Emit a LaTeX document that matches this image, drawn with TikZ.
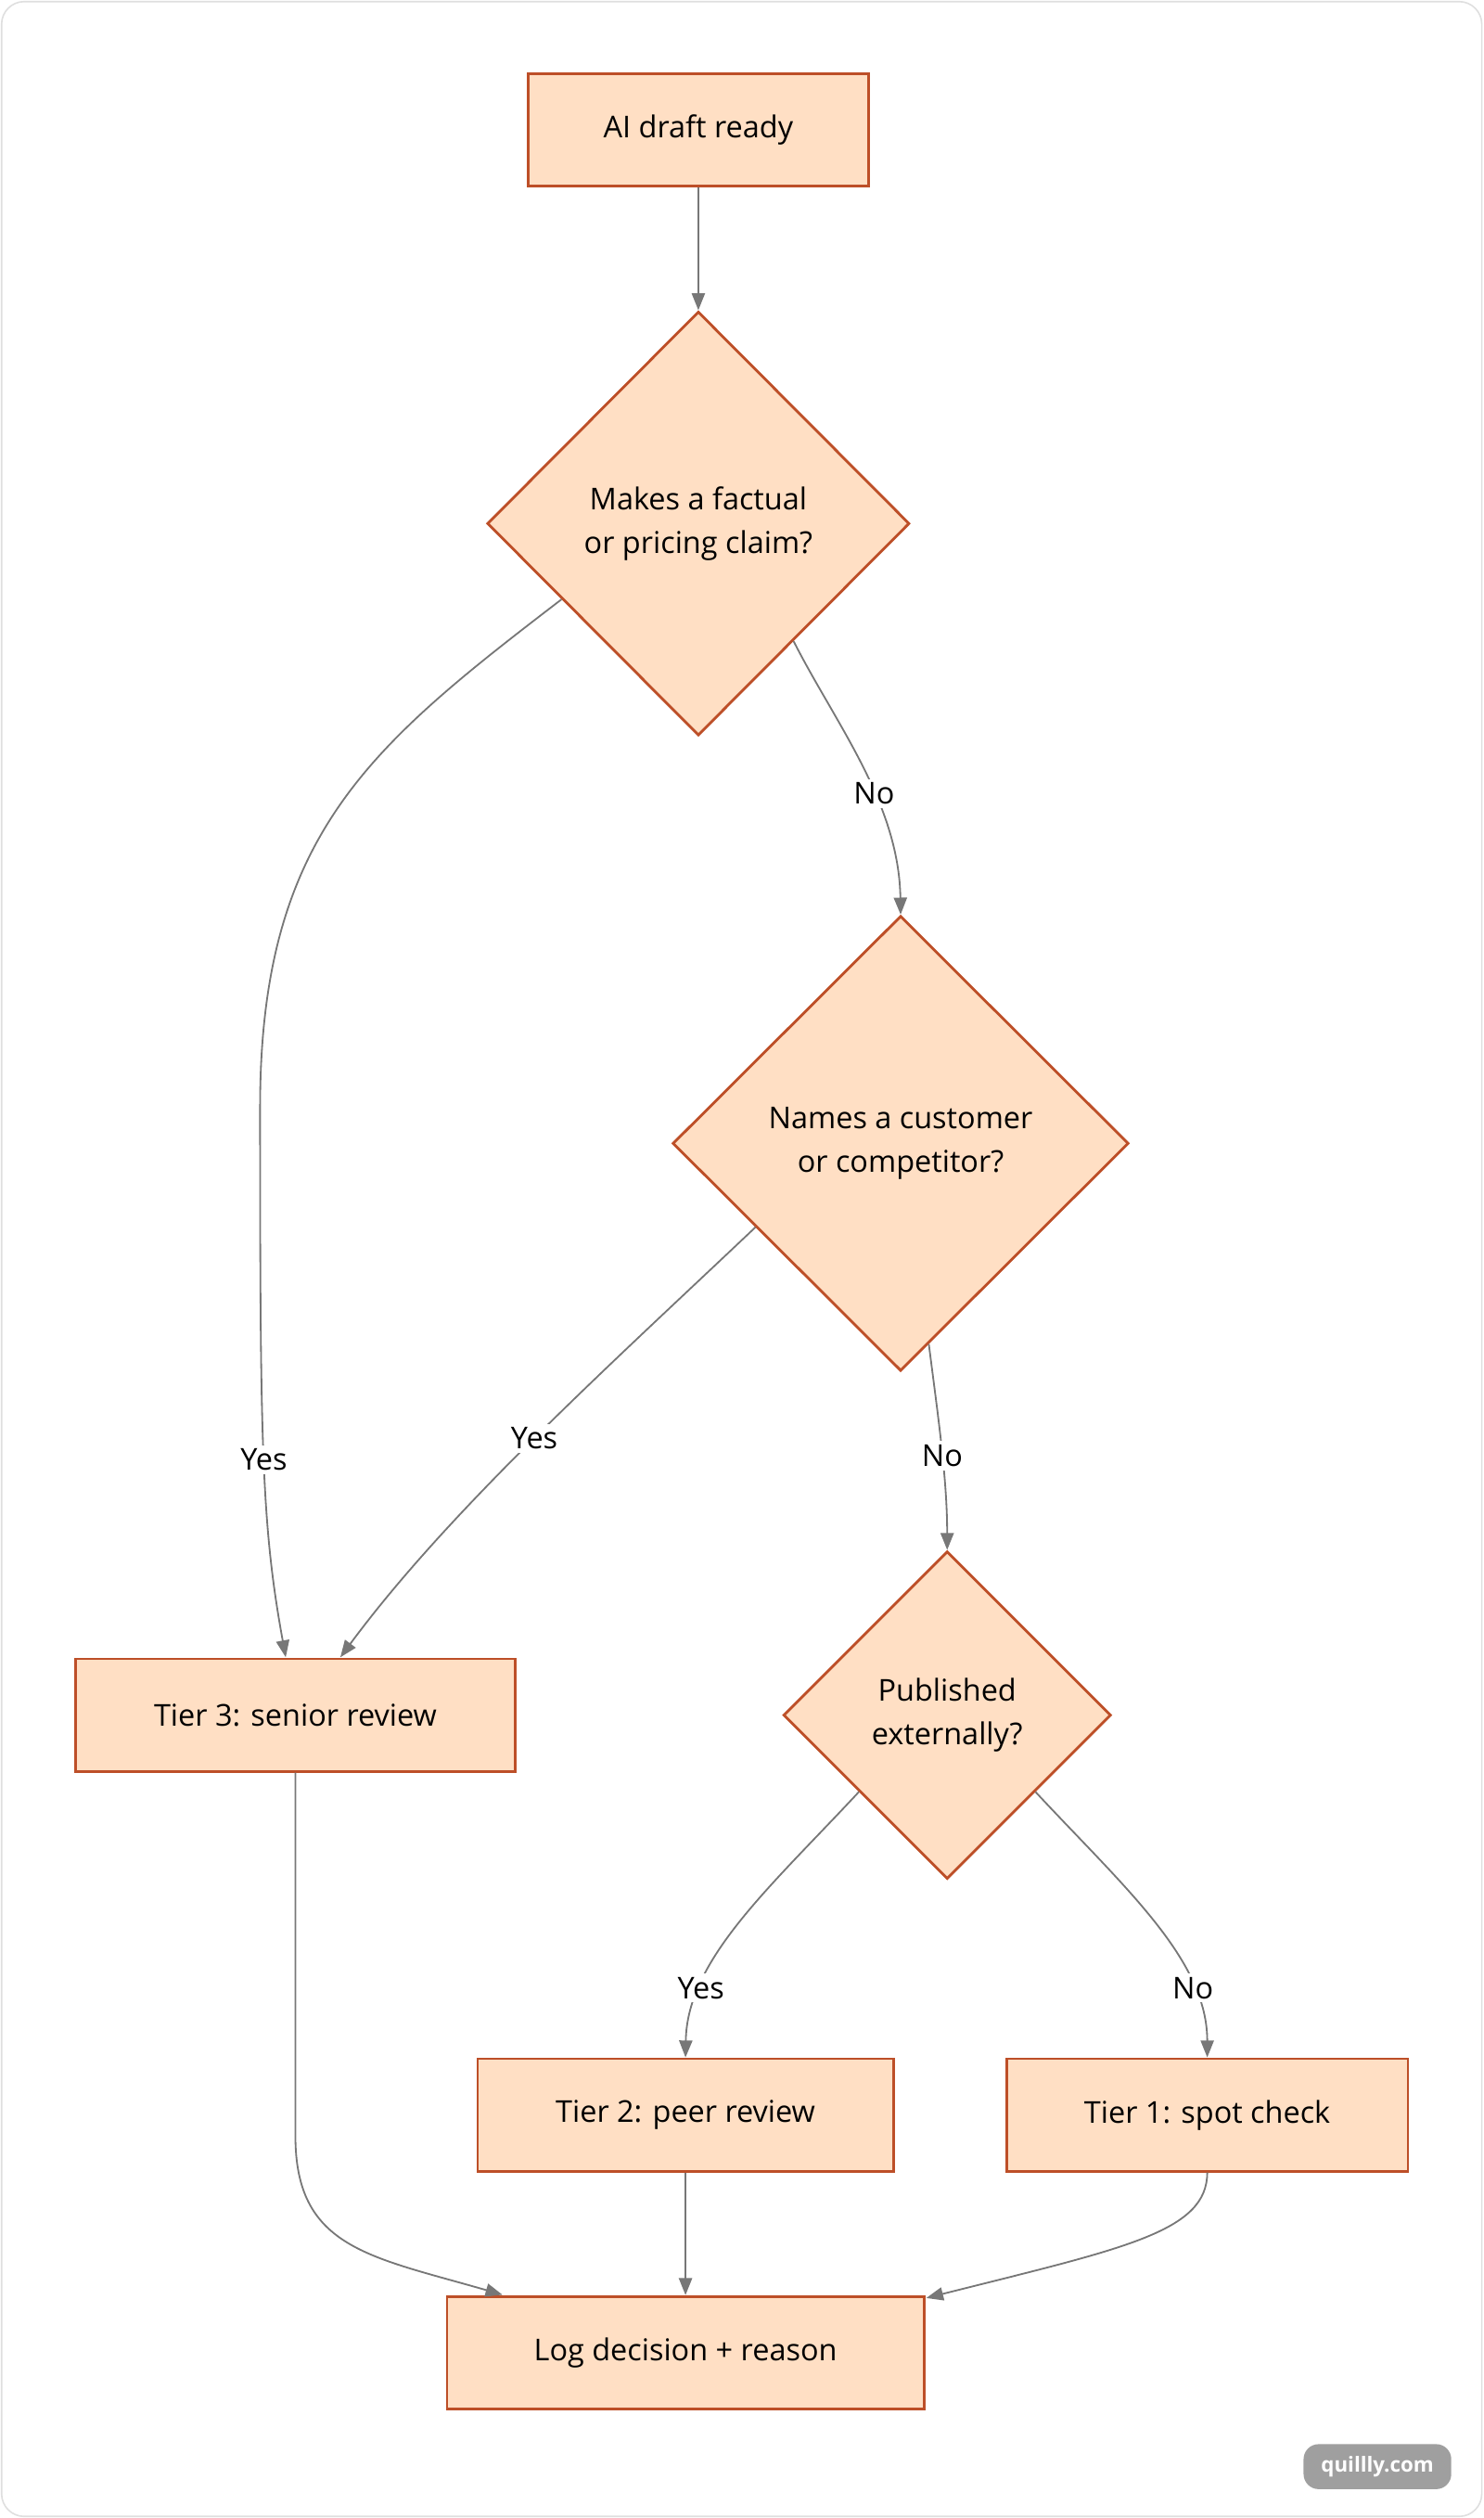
\documentclass[tikz,border=0pt]{standalone}
\usepackage{fontspec}
\setmainfont{Open Sans}
\usetikzlibrary{shapes.geometric,arrows.meta}
\definecolor{boxfill}{HTML}{FFDFC4}
\definecolor{boxline}{HTML}{BD4F28}
\definecolor{edgegray}{HTML}{777777}
\tikzset{font=\fontsize{16}{23}\selectfont}
\tikzstyle{box}=[rectangle,fill=boxfill,draw=boxline,line width=1.4pt,minimum height=2.1cm,inner sep=0pt]
\tikzstyle{dec}=[diamond,fill=boxfill,draw=boxline,line width=1.4pt,inner sep=0pt,align=center]
\tikzstyle{lab}=[fill=white,inner sep=2pt]
\tikzstyle{edge}=[draw=edgegray,line width=0.9pt,-{Triangle[length=9pt,width=7pt]}]
\begin{document}
\begin{tikzpicture}[x=0.03cm,y=-0.03cm]
	\useasboundingbox (0,0) rectangle (924,1568);
	\draw[gray!25,line width=0.8pt,rounded corners=12pt] (1,1) rectangle (923,1567);
	% nodes
	\node [box,minimum width=6.36cm] (0) at (435,81) {AI draft ready};
	\node [dec,minimum width=7.89cm,minimum height=7.92cm] (1) at (435,326) {Makes a factual\\or pricing claim?};
	\node [dec,minimum width=8.52cm,minimum height=8.5cm] (2) at (561,712) {Names a customer\\or competitor?};
	\node [dec,minimum width=6.12cm,minimum height=6.12cm] (3) at (590,1068) {Published\\externally?};
	\node [box,minimum width=8.22cm] (4) at (184,1068) {Tier 3: senior review};
	\node [box,minimum width=7.77cm] (5) at (427,1317) {Tier 2: peer review};
	\node [box,minimum width=7.5cm] (6) at (752,1317) {Tier 1: spot check};
	\node [box,minimum width=8.91cm] (7) at (427,1465) {Log decision + reason};
	\node [fill=gray!75,text=white,rounded corners=8pt,minimum width=2.76cm,minimum height=0.84cm,inner sep=0pt,font=\fontsize{11}{13}\selectfont\bfseries] (8) at (858,1536) {quillly.com};
	% free ends on the box edges
	\coordinate (4a) at (178,1032);
	\coordinate (4b) at (212,1032);
	\coordinate (7a) at (313,1429);
	\coordinate (7b) at (577,1431);
	% edges
	\draw [edge] (0) -- (1);
	\draw [edge] (1.209) .. controls (230,465) and (162,520) .. (162,690) .. controls (162,900) and (163,950) .. (4a) node [lab,pos=0.5] {Yes};
	\draw [edge] (1.-51) .. controls (520,450) and (560,500) .. (2.north) node [lab,pos=0.6] {No};
	\draw [edge] (2.210) .. controls (380,850) and (280,940) .. (4b) node [lab,pos=0.5] {Yes};
	\draw [edge] (2.-82) .. controls (584,880) and (590,920) .. (3.north) node [lab,pos=0.55] {No};
	\draw [edge] (3.221) .. controls (480,1175) and (428,1220) .. (5.north) node [lab,pos=0.75] {Yes};
	\draw [edge] (3.-41) .. controls (700,1175) and (752,1220) .. (6.north) node [lab,pos=0.75] {No};
	\draw [edge] (4.south) -- (184,1330) .. controls (184,1400) and (230,1405) .. (7a);
	\draw [edge] (5) -- (7);
	\draw [edge] (6.south) .. controls (752,1390) and (700,1400) .. (7b);
\end{tikzpicture}
\end{document}
